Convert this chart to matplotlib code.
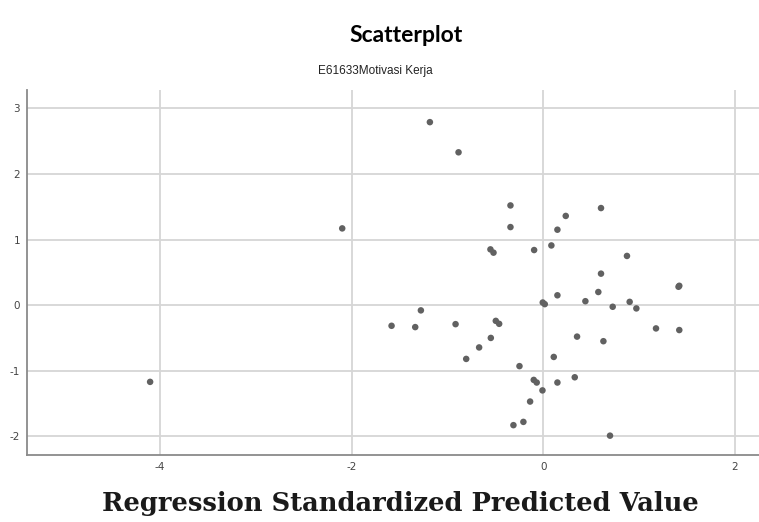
"""Regression scatterplot: standardized residual vs predicted value"""

import matplotlib
matplotlib.use('Agg')
import matplotlib.pyplot as plt

plt.rcParams['axes.unicode_minus'] = False

# Regression standardized predicted value (x) and residual (y)
predicted = [-4.105, -2.10, -1.585, -1.338, -1.279, -1.185, -0.917, -0.886,
             -0.806, -0.671, -0.553, -0.549, -0.521, -0.497, -0.462, -0.344,
             -0.344, -0.313, -0.250, -0.209, -0.139, -0.101, -0.097, -0.070,
             -0.010, -0.007, 0.014, 0.083, 0.108, 0.146, 0.146, 0.146,
             0.233, 0.327, 0.351, 0.438, 0.573, 0.601, 0.601, 0.626,
             0.695, 0.723, 0.872, 0.900, 0.970, 1.175, 1.418, 1.410, 1.418]
residual = [-1.17, 1.17, -0.315, -0.335, -0.08, 2.79, -0.29, 2.33,
            -0.82, -0.645, 0.85, -0.50, 0.80, -0.24, -0.285, 1.52,
            1.19, -1.83, -0.93, -1.78, -1.47, -1.14, 0.84, -1.18,
            -1.30, 0.04, 0.015, 0.91, -0.79, 1.15, 0.15, -1.18,
            1.36, -1.10, -0.48, 0.06, 0.20, 1.48, 0.48, -0.55,
            -1.99, -0.025, 0.75, 0.05, -0.05, -0.355, 0.295, 0.28, -0.38]

x_ticks = [-4, -2, 0, 2]
y_ticks = [-2, -1, 0, 1, 2, 3]

W, H = 759, 522
fig = plt.figure(figsize=(W / 100, H / 100), dpi=100)

# plot area measured in pixels
left, right, top, bottom = 27, 759, 90, 455
ax = fig.add_axes([left / W, (H - bottom) / H, (right - left) / W, (bottom - top) / H])

ax.scatter(predicted, residual, s=22, color='#616161', edgecolors='none', zorder=3)

ax.set_xlim(-5.39, 2.25)
ax.set_ylim(-2.285, 3.28)
ax.set_xticks(x_ticks)
ax.set_yticks(y_ticks)
ax.grid(True, color='#d6d6d6', linewidth=1.3)
ax.set_axisbelow(True)
ax.tick_params(length=0, labelsize=7.5, labelcolor='#444444', pad=5)

for side in ['top', 'right']:
    ax.spines[side].set_visible(False)
for side in ['left', 'bottom']:
    ax.spines[side].set_color('#8a8a8a')
    ax.spines[side].set_linewidth(1.3)

# titles and axis label as figure text
fig.text(406 / W, 1 - 36 / H, 'Scatterplot', ha='center', va='center',
         fontsize=16.5, fontweight='bold', family=['Lato', 'DejaVu Sans'])
fig.text(375 / W, 1 - 71 / H, 'E61633Motivasi Kerja', ha='center', va='center',
         fontsize=8.5, family=['Liberation Sans Narrow', 'Liberation Sans'],
         color='#222222')
fig.text(400 / W, 1 - 503 / H, 'Regression Standardized Predicted Value',
         ha='center', va='center', fontsize=18.5, fontweight='bold',
         family=['DejaVu Serif'], color='#1a1a1a')

plt.savefig('out.png', dpi=100, facecolor='white')
